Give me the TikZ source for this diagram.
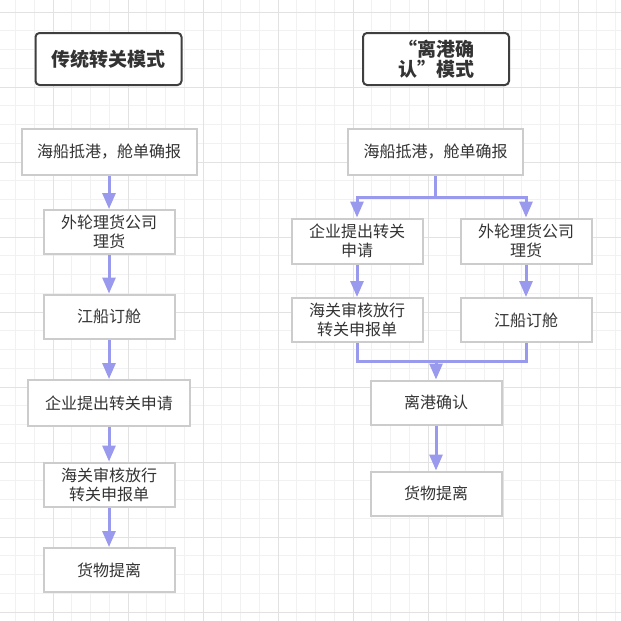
\documentclass[tikz,border=0pt]{standalone}
\usepackage{fontspec}
\usepackage{xcolor}
\usetikzlibrary{arrows.meta}
\newfontfamily\cjk{Noto Sans CJK SC}
\definecolor{fgminor}{HTML}{F1F1F1}
\definecolor{fgmajor}{HTML}{E2E2E2}
\definecolor{fgtitle}{HTML}{3F3F3F}
\definecolor{fgbox}{HTML}{CCCCCC}
\definecolor{fgtext}{HTML}{333333}
\definecolor{fgflow}{HTML}{9999EE}

\tikzset{
  titlebox/.style={draw=fgtitle, line width=2pt, fill=white, rounded corners=4pt,
    minimum width=146pt, minimum height=52pt, inner sep=1pt, align=center,
    text=fgtext, font=\cjk\bfseries\fontsize{19}{20}\selectfont},
  stepbox/.style={draw=fgbox, line width=2pt, fill=white,
    minimum width=131pt, minimum height=44pt, inner sep=1pt, align=center,
    text=fgtext, font=\cjk\fontsize{16}{19}\selectfont},
  flow/.style={draw=fgflow, line width=3pt, -{Triangle[length=16pt,width=13pt]}},
  flowline/.style={draw=fgflow, line width=3pt},
}

\begin{document}
\begin{tikzpicture}[x=1pt, y=-1pt]
  \useasboundingbox (0,0) rectangle (621,621);
  \fill[white] (0,0) rectangle (621,621);
  % background grid
  \foreach \i in {0,...,32} {
    \draw[fgminor, line width=1pt] (15.5+18.75*\i,0) -- ++(0,621);
    \draw[fgminor, line width=1pt] (0,12+18.75*\i) -- ++(621,0);
  }
  \foreach \i in {0,...,7} {
    \draw[fgmajor, line width=1pt] (53+75*\i,0) -- ++(0,621);
  }
  \foreach \i in {0,...,8} {
    \draw[fgmajor, line width=1pt] (0,12+75*\i) -- ++(621,0);
  }

  % left: traditional mode
  \node[titlebox] (tradtitle) at (108.5,59) {传统转关模式};
  \node[stepbox, minimum width=175pt, minimum height=46pt] (tarrive) at (109,152) {海船抵港，舱单确报};
  \node[stepbox] (ttally) at (109,232) {外轮理货公司\\理货};
  \node[stepbox] (tbook) at (109,316.5) {江船订舱};
  \node[stepbox, minimum width=162pt, minimum height=46pt] (tapply) at (109,403) {企业提出转关申请};
  \node[stepbox] (trelease) at (109,484.5) {海关审核放行\\转关申报单};
  \node[stepbox] (tpickup) at (109,570) {货物提离};

  \draw[flow] (tarrive) -- (ttally);
  \draw[flow] (ttally) -- (tbook);
  \draw[flow] (tbook) -- (tapply);
  \draw[flow] (tapply) -- (trelease);
  \draw[flow] (trelease) -- (tpickup);

  % right: departure confirmation mode
  \node[titlebox] (conftitle) at (436,59) {“离港确\\认”模式};
  \node[stepbox, minimum width=175pt, minimum height=46pt] (carrive) at (435.5,152) {海船抵港，舱单确报};
  \node[stepbox, minimum height=45pt] (capply) at (357,241) {企业提出转关\\申请};
  \node[stepbox, minimum height=45pt] (ctally) at (526,241) {外轮理货公司\\理货};
  \node[stepbox] (crelease) at (357,320) {海关审核放行\\转关申报单};
  \node[stepbox] (cbook) at (526,320) {江船订舱};
  \node[stepbox] (cconfirm) at (436,402.5) {离港确认};
  \node[stepbox] (cpickup) at (436,493.5) {货物提离};

  \coordinate (csplit) at (435.5,197);
  \coordinate (cjoin) at (436,361);
  \draw[flowline] (carrive) -- (csplit);
  \draw[flow] (csplit) -| (capply);
  \draw[flow] (csplit) -| (ctally);
  \draw[flow] (ctally) -- (cbook);
  \draw[flow] (capply) -- (crelease);
  \draw[flowline] (crelease) |- (cjoin);
  \draw[flowline] (cbook) |- (cjoin);
  \draw[flow] (cjoin) -- (cconfirm);
  \draw[flow] (cconfirm) -- (cpickup);
\end{tikzpicture}
\end{document}
